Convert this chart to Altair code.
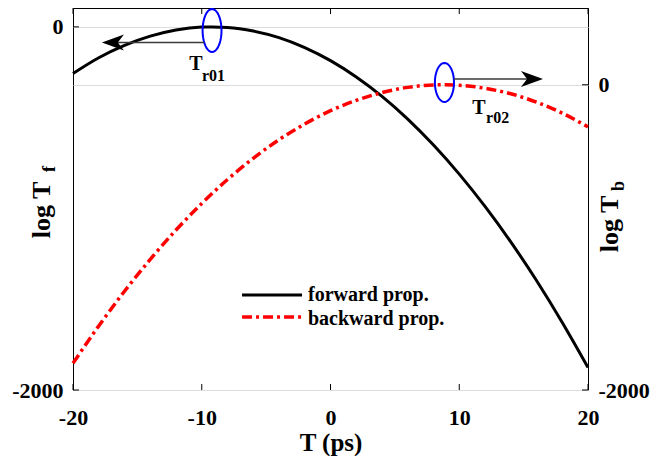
import math
import altair as alt
import pandas as pd

# ---------------- data ----------------
forward_T = [-20, -18, -16, -14, -12, -10, -9.2, -8, -6, -4, -2, 0, 2, 4, 6, 8, 10, 12, 14, 16, 18, 20]
forward_v = [-257, -170, -102, -51, -17, -1, 0, -3, -23, -59, -114, -186, -276, -383, -508, -651, -811, -989,
             -1184, -1397, -1628, -1876]

backward_T = [-20, -18, -16, -14, -12, -10, -8, -6, -4, -2, 0, 2, 4, 6, 8, 8.8, 10, 12, 14, 16, 18, 20]
backward_v = [-1825, -1580, -1353, -1144, -952, -778, -621, -482, -360, -257, -170, -102, -51, -17, -1, 0,
              -3, -23, -59, -114, -186, -276]

x_ticks = [-20, -10, 0, 10, 20]
left_ticks = [0, -2000]
right_ticks = [0, -2000]
series_names = ["forward prop.", "backward prop."]

# annotation anchors (data units)
peak1 = {"T": [-9.2], "v": [-20]}          # ellipse at Tr01 (left scale)
peak2 = {"T": [8.85], "v": [15]}           # ellipse at Tr02 (right scale)
arrow1 = {"T0": [-9.8], "T1": [-16.5], "v": [-86], "Thead": [-16.9]}
arrow2 = {"T0": [9.6], "T1": [15.5], "v": [38], "Thead": [15.65]}
label1 = {"T": [-10.45], "v": [-237], "Tsub": [-9.98], "vsub": [-298], "main": ["T"], "sub": ["r01"]}
label2 = {"T": [11.53], "v": [-191], "Tsub": [12.08], "vsub": [-250], "main": ["T"], "sub": ["r02"]}
legend_x = [-6.87, -2.21]
legend_text_x = -1.75
legend_line_y = [-1477, -1598]
legend_text_y = [-1510, -1642]

FONT = "Liberation Serif"
X_DOMAIN = [-20, 20]
LEFT_DOMAIN = [-2000, 104]
RIGHT_DOMAIN = [-2000, 503]
W, H = 515, 382
LABEL_EXPR = "'' + datum.value"

xs = alt.Scale(domain=X_DOMAIN, nice=False, zero=False)
yl = alt.Scale(domain=LEFT_DOMAIN, nice=False, zero=False)
yr = alt.Scale(domain=RIGHT_DOMAIN, nice=False, zero=False)

x_axis = alt.Axis(values=x_ticks, title="T (ps)", grid=False, labelPadding=17, titlePadding=2,
                  labelFlush=False, orient="bottom", labelExpr=LABEL_EXPR)
yl_axis = alt.Axis(orient="left", values=left_ticks, title=None, grid=True, labelPadding=10,
                   labelFlush=False, labelExpr=LABEL_EXPR)
yr_axis = alt.Axis(orient="right", values=right_ticks, title=None, grid=True, labelPadding=10,
                   labelFlush=False, labelExpr=LABEL_EXPR)


def X(field):
    return alt.X(field, scale=xs, axis=x_axis)


def YL(field):
    return alt.Y(field, scale=yl, axis=yl_axis)


def YR(field):
    return alt.Y(field, scale=yr, axis=yr_axis)


def ellipse_path(rx, ry=1.0, n=40):
    pts = []
    for i in range(n):
        a = 2 * math.pi * i / n
        pts.append(f"{rx * math.sin(a):.3f},{-ry * math.cos(a):.3f}")
    return "M" + " L".join(pts) + " Z"


ARROW_LEFT = "M-1,0 L1,-0.72 L0.45,0 L1,0.72 Z"
ARROW_RIGHT = "M1,0 L-1,-0.72 L-0.45,0 L-1,0.72 Z"

# ---------------- left (forward) layer ----------------
fwd_df = pd.DataFrame({"T": forward_T, "v": forward_v})
forward = alt.Chart(fwd_df).mark_line(color="black", strokeWidth=3, interpolate="monotone").encode(
    x=X("T:Q"), y=YL("v:Q"))

ell1 = alt.Chart(pd.DataFrame(peak1)).mark_point(
    shape=ellipse_path(0.44), size=43 * 43, filled=False, color="#0000ff", strokeWidth=2, opacity=1
).encode(x=X("T:Q"), y=YL("v:Q"))

a1_line = alt.Chart(pd.DataFrame(arrow1)).mark_rule(color="#3a3a3a", strokeWidth=1.5).encode(
    x=X("T0:Q"), x2="T1:Q", y=YL("v:Q"))
a1_head = alt.Chart(pd.DataFrame(arrow1)).mark_point(
    shape=ARROW_LEFT, size=22 * 22, filled=True, color="black", opacity=1, strokeWidth=0
).encode(x=X("Thead:Q"), y=YL("v:Q"))

l1_main = alt.Chart(pd.DataFrame(label1)).mark_text(
    font=FONT, fontWeight="bold", fontSize=20, align="center", baseline="alphabetic", color="black"
).encode(x=X("T:Q"), y=YL("v:Q"), text="main:N")
l1_sub = alt.Chart(pd.DataFrame(label1)).mark_text(
    font=FONT, fontWeight="bold", fontSize=16, align="left", baseline="alphabetic", color="black"
).encode(x=X("Tsub:Q"), y=YL("vsub:Q"), text="sub:N")

# inward tick marks (MATLAB style box)
tick_len_y_left = 6 * (LEFT_DOMAIN[1] - LEFT_DOMAIN[0]) / H
tick_len_x = 6 * (X_DOMAIN[1] - X_DOMAIN[0]) / W
bottom_ticks = pd.DataFrame({"T": x_ticks, "y0": [LEFT_DOMAIN[0]] * 5,
                             "y1": [LEFT_DOMAIN[0] + tick_len_y_left] * 5})
top_ticks = pd.DataFrame({"T": x_ticks, "y0": [LEFT_DOMAIN[1]] * 5,
                          "y1": [LEFT_DOMAIN[1] - tick_len_y_left] * 5})
tb = alt.Chart(bottom_ticks).mark_rule(color="black", strokeWidth=1).encode(
    x=X("T:Q"), y=YL("y0:Q"), y2="y1:Q")
tt = alt.Chart(top_ticks).mark_rule(color="black", strokeWidth=1).encode(
    x=X("T:Q"), y=YL("y0:Q"), y2="y1:Q")
left_tick_df = pd.DataFrame({"x0": [X_DOMAIN[0]] * 2, "x1": [X_DOMAIN[0] + tick_len_x] * 2, "v": left_ticks})
tl = alt.Chart(left_tick_df).mark_rule(color="black", strokeWidth=1).encode(
    x=X("x0:Q"), x2="x1:Q", y=YL("v:Q"))

# legend (drawn inside the plot)
leg_df = pd.DataFrame({"x0": [legend_x[0]] * 2, "x1": [legend_x[1]] * 2, "y": legend_line_y,
                       "ty": legend_text_y, "tx": [legend_text_x] * 2, "name": series_names})
leg_black = alt.Chart(leg_df.iloc[[0]]).mark_rule(color="black", strokeWidth=3).encode(
    x=X("x0:Q"), x2="x1:Q", y=YL("y:Q"))
leg_red = alt.Chart(leg_df.iloc[[1]]).mark_rule(color="#ff0000", strokeWidth=3.5,
                                                strokeDash=[10, 4, 3, 4]).encode(
    x=X("x0:Q"), x2="x1:Q", y=YL("y:Q"))
leg_text = alt.Chart(leg_df).mark_text(
    font=FONT, fontWeight="bold", fontSize=20, align="left", baseline="alphabetic", color="black"
).encode(x=X("tx:Q"), y=YL("ty:Q"), text="name:N")


# axis titles with subscripts (pixel positions relative to the plot area)
def title_text(txt, x, y, size):
    return alt.Chart(pd.DataFrame({"t": [txt]})).mark_text(
        font=FONT, fontWeight="bold", fontSize=size, angle=270, align="center",
        baseline="alphabetic", color="black"
    ).encode(text="t:N", x=alt.value(x), y=alt.value(y))


lt_main = title_text("log T", -23, 202, 26)
lt_sub = title_text("f", -18, 161, 18)
rt_main = title_text("log T", 545, 216, 26)
rt_sub = title_text("b", 551, 178, 18)

left_layer = alt.layer(forward, tb, tt, tl, ell1, a1_line, a1_head, l1_main, l1_sub,
                       leg_black, leg_red, leg_text, lt_main, lt_sub, rt_main, rt_sub)

# ---------------- right (backward) layer ----------------
bwd_df = pd.DataFrame({"T": backward_T, "v": backward_v})
backward = alt.Chart(bwd_df).mark_line(color="#ff0000", strokeWidth=3.5, strokeDash=[10, 4, 3, 4],
                                       interpolate="monotone").encode(x=X("T:Q"), y=YR("v:Q"))
ell2 = alt.Chart(pd.DataFrame(peak2)).mark_point(
    shape=ellipse_path(0.49), size=39 * 39, filled=False, color="#0000ff", strokeWidth=2, opacity=1
).encode(x=X("T:Q"), y=YR("v:Q"))
a2_line = alt.Chart(pd.DataFrame(arrow2)).mark_rule(color="#3a3a3a", strokeWidth=1.5).encode(
    x=X("T0:Q"), x2="T1:Q", y=YR("v:Q"))
a2_head = alt.Chart(pd.DataFrame(arrow2)).mark_point(
    shape=ARROW_RIGHT, size=22 * 22, filled=True, color="black", opacity=1, strokeWidth=0
).encode(x=X("Thead:Q"), y=YR("v:Q"))
l2_main = alt.Chart(pd.DataFrame(label2)).mark_text(
    font=FONT, fontWeight="bold", fontSize=20, align="center", baseline="alphabetic", color="black"
).encode(x=X("T:Q"), y=YR("v:Q"), text="main:N")
l2_sub = alt.Chart(pd.DataFrame(label2)).mark_text(
    font=FONT, fontWeight="bold", fontSize=16, align="left", baseline="alphabetic", color="black"
).encode(x=X("Tsub:Q"), y=YR("vsub:Q"), text="sub:N")
right_tick_df = pd.DataFrame({"x0": [X_DOMAIN[1] - tick_len_x] * 2, "x1": [X_DOMAIN[1]] * 2, "v": right_ticks})
tr = alt.Chart(right_tick_df).mark_rule(color="black", strokeWidth=1).encode(
    x=X("x0:Q"), x2="x1:Q", y=YR("v:Q"))

right_layer = alt.layer(backward, tr, ell2, a2_line, a2_head, l2_main, l2_sub)

chart = alt.layer(left_layer, right_layer).resolve_scale(y="independent").properties(
    width=W, height=H,
    padding={"left": 65, "top": 0, "right": 68, "bottom": 66},
    autosize=alt.AutoSizeParams(type="none"),
).configure_view(stroke="black", strokeWidth=1).configure_axis(
    labelFont=FONT, labelFontWeight="bold", labelFontSize=22, labelColor="black",
    titleFont=FONT, titleFontWeight="bold", titleFontSize=25, titleColor="black",
    domain=False, ticks=False, tickSize=0, gridColor="#dcdcdc", gridWidth=1,
)

chart.save("out.html", embed_options={"renderer": "svg", "actions": False})
